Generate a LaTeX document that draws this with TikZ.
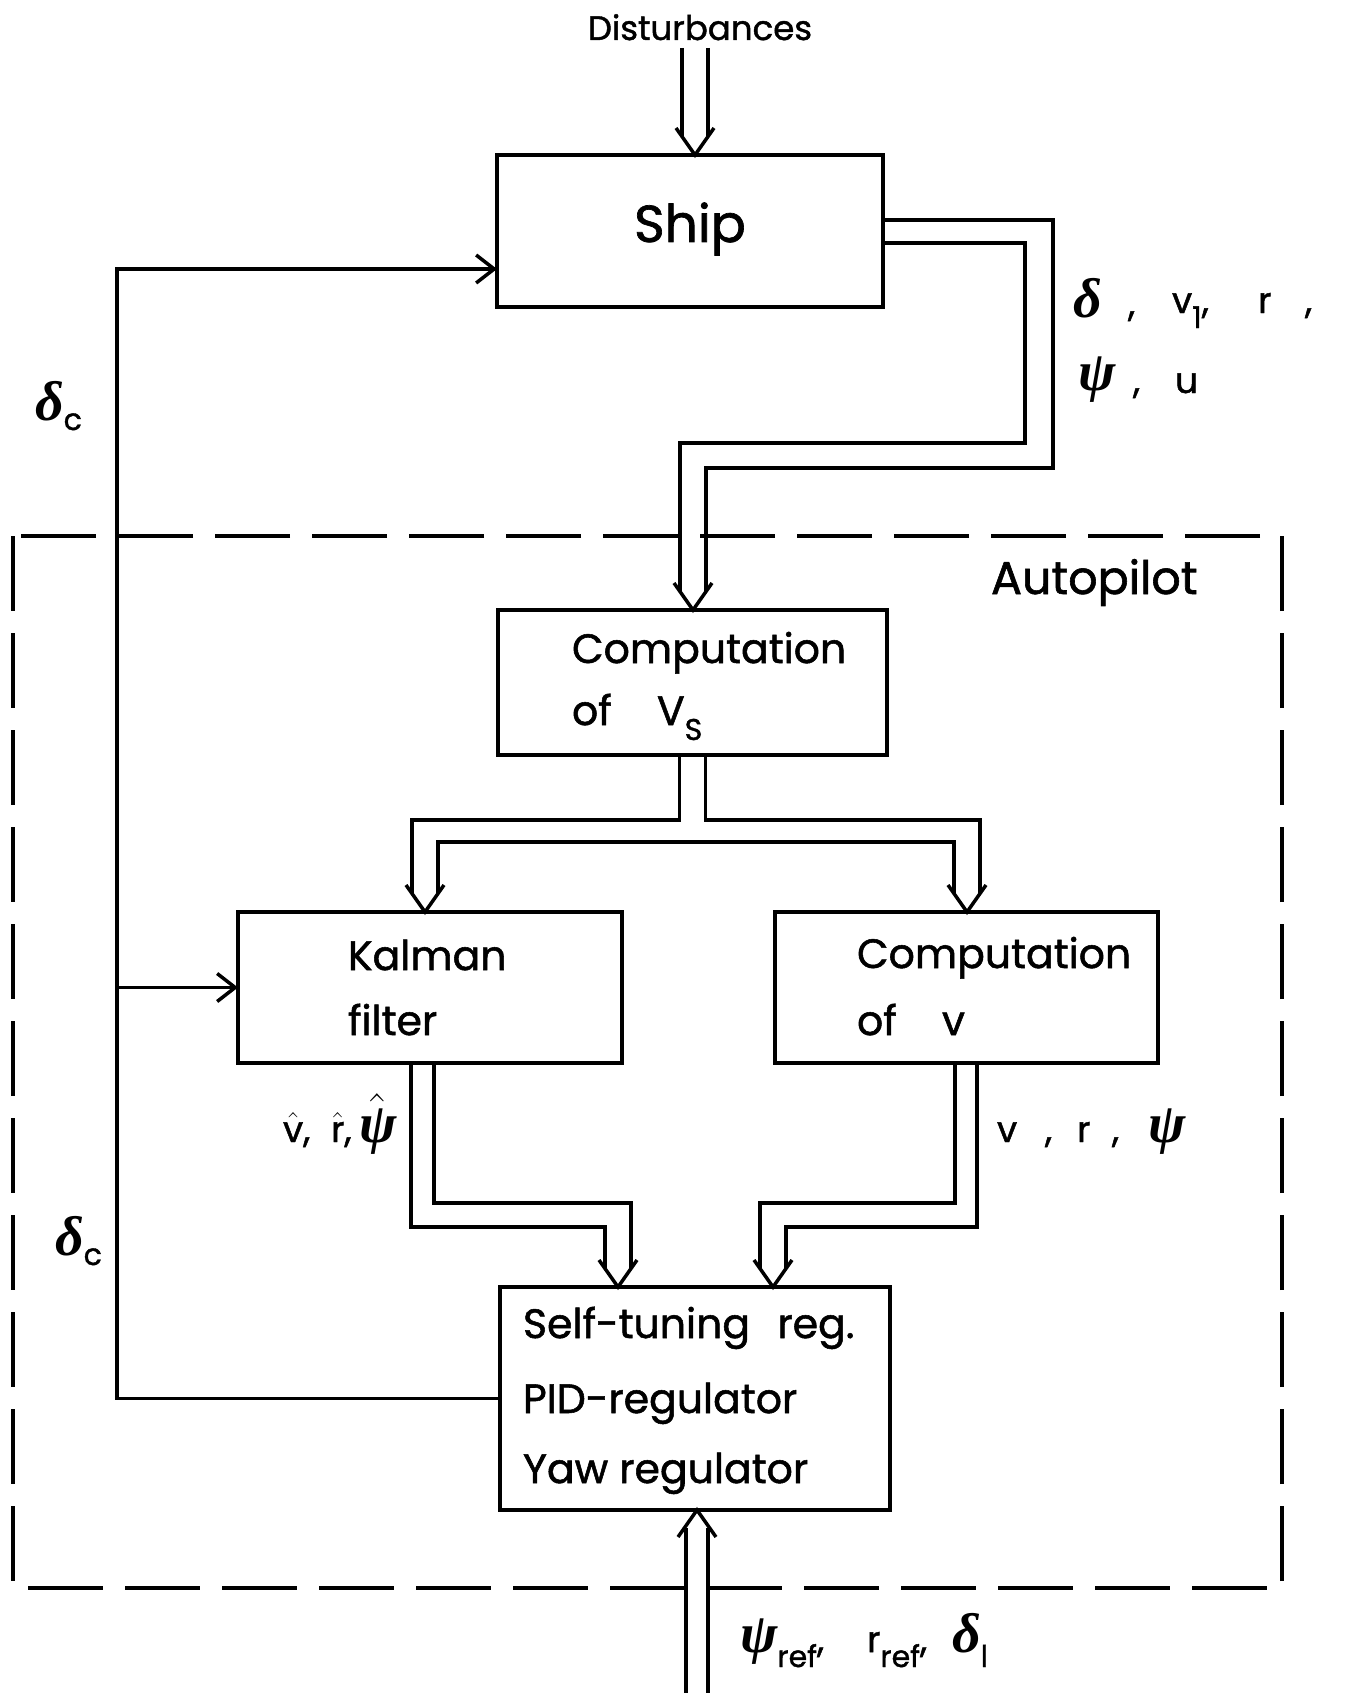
\documentclass[tikz,border=0pt]{standalone}
\usepackage{fix-cm}
\usepackage{amsmath}
\usepackage[no-math]{fontspec}
\setmainfont{Poppins}[FakeBold=1.3]
\newfontfamily\grk{Liberation Serif}
\usetikzlibrary{calc,arrows.meta}
\newcommand\fsBox{\fontsize{41pt}{46pt}\selectfont}
\newcommand\fsShip{\fontsize{52pt}{56pt}\selectfont}
\newcommand\fsDist{\fontsize{34pt}{38pt}\selectfont}
\newcommand\fsAuto{\fontsize{46pt}{50pt}\selectfont}
\newcommand\fsLab{\fontsize{36pt}{40pt}\selectfont}
\newcommand\fsSub{\fontsize{30pt}{32pt}\selectfont}
\newcommand\fsG{\fontsize{56pt}{60pt}\selectfont}
\newcommand\gd{{\grk\bfseries\itshape δ}}
\newcommand\gp{{\grk\bfseries\itshape ψ}}
\newcommand\sbx[2]{\raisebox{-#1pt}{\fsSub #2}}
\newcommand\DHdown[1]{\draw[ln] ($(#1)+(-19,-27)$) -- (#1) -- ($(#1)+(19,-27)$);}
\newcommand\DHup[1]{\draw[ln] ($(#1)+(-19,27)$) -- (#1) -- ($(#1)+(19,27)$);}
\begin{document}
\begin{tikzpicture}[x=1pt,y=-1pt,
  ln/.style={line width=3.5pt},
  box/.style={draw,line width=3.5pt,inner sep=0pt,outer sep=0pt},
  txt/.style={inner sep=0pt,outer sep=0pt,anchor=base west},
  barbtip/.style={-{Straight Barb[length=18pt,width=28pt,line width=3.5pt]}}]
\useasboundingbox[fill=white] (0,0) rectangle (1351,1693);

% boxes
\node[box,minimum width=386pt,minimum height=152pt] (ship) at (690,231) {};
\node[box,minimum width=389pt,minimum height=145pt] (vs) at (692.5,682.5) {};
\node[box,minimum width=384pt,minimum height=151pt] (kal) at (430,987.5) {};
\node[box,minimum width=383pt,minimum height=151pt] (cv) at (966.5,987.5) {};
\node[box,minimum width=390pt,minimum height=223pt] (str) at (695,1398.5) {};

% autopilot frame
\draw[ln,dash pattern=on 75pt off 22pt] (13,536) rectangle (1282,1588);

% texts
\node[txt,font=\fsDist,anchor=base] (dist) at (700,40) {Disturbances};
\node[txt,font=\fsShip,anchor=base] (shipT) at (690,242) {Ship};
\node[txt,font=\fsAuto] (autoT) at (991,594) {Autopilot};
\node[txt,font=\fsBox] (vsT1) at (572,663) {Computation};
\node[txt,font=\fsBox] (vsT2) at (572,725) {\makebox[85pt][l]{of}V\sbx{15}{S}};
\node[txt,font=\fsBox] (kalT1) at (348,970) {Kalman};
\node[txt,font=\fsBox] (kalT2) at (348,1035) {filter};
\node[txt,font=\fsBox] (cvT1) at (857,968) {Computation};
\node[txt,font=\fsBox] (cvT2) at (857,1035) {\makebox[85pt][l]{of}v};
\node[txt,font=\fsBox] (strT1) at (523,1338) {Self-tuning\hspace{0.4em} reg.};
\node[txt,font=\fsBox] (strT2) at (523,1413) {PID-regulator};
\node[txt,font=\fsBox] (strT3) at (523,1483) {Yaw regulator};

% signal labels
\node[txt] (dc1) at (35,420) {\fsG\gd\sbx{10}{c}};
\node[txt] (dc2) at (55,1255) {\fsG\gd\sbx{10}{c}};
\node[txt,font=\fsG] (odT) at (1073,318) {\gd};
\node[txt,font=\fsLab] (oc1) at (1128,316) {,};
\node[txt,font=\fsLab] (ov1) at (1172,313) {v\sbx{15}{1},};
\node[txt,font=\fsLab] (orT) at (1258,313) {r};
\node[txt,font=\fsLab] (oc2) at (1305,313) {,};
\node[txt,font=\fsG] (opT) at (1078,390) {\gp};
\node[txt,font=\fsLab] (oc3) at (1133,393) {,};
\node[txt,font=\fsLab] (ouT) at (1175,393) {u};
\node[txt] (kalL) at (283,1142) {\fsLab\makebox[48pt][l]{$\hat{\text{v}}$,}\makebox[28pt][l]{$\hat{\text{r}}$,}{\fsG$\hat{\text{\gp}}$}};
\node[txt] (cvL) at (997,1142) {\fsLab\makebox[48pt][l]{v}\makebox[32pt][l]{,}\makebox[35pt][l]{r}\makebox[36pt][l]{,}{\fsG\gp}};
\node[txt] (refL) at (740,1652) {\fsLab\makebox[127pt][l]{{\fsG\gp}\sbx{15}{ref},}\makebox[85pt][l]{r\sbx{15}{ref},}{\fsG\gd}\sbx{15}{l}};

% disturbances -> ship
\coordinate (t0) at ($(ship.north)+(5,0)$);
\draw[ln] ($(t0)+(-13,-107)$) -- ($(t0)+(-13,-18)$);
\draw[ln] ($(t0)+(13,-107)$) -- ($(t0)+(13,-18)$);
\DHdown{t0}

% ship -> computation of Vs
\coordinate (vt) at ($(vs.north)+(0.5,0)$);
\coordinate (so1) at ($(ship.east)+(0,-11)$);
\coordinate (so2) at ($(ship.east)+(0,12)$);
\draw[ln] (so1) -- ++(170,0) |- ($(vt)+(13,-142)$) -- ($(vt)+(13,-18)$);
\draw[ln] (so2) -- ++(142,0) |- ($(vt)+(-13,-167)$) -- ($(vt)+(-13,-18)$);
\DHdown{vt}

% Vs -> Kalman, Vs -> computation of v
\coordinate (kt) at ($(kal.north)+(-5,0)$);
\coordinate (ct) at ($(cv.north)+(0.5,0)$);
\draw[ln] ($(vs.south)+(-13,0)$) |- ($(kt)+(-13,-92)$) -- ($(kt)+(-13,-18)$);
\draw[ln] ($(vs.south)+(13,0)$) |- ($(ct)+(13,-92)$) -- ($(ct)+(13,-18)$);
\draw[ln] ($(kt)+(13,-18)$) |- ($(ct)+(-13,-70)$) -- ($(ct)+(-13,-18)$);
\DHdown{kt}
\DHdown{ct}

% Kalman -> regulator, computation of v -> regulator
\coordinate (lt) at ($(str.north)+(-77,0)$);
\coordinate (rt) at ($(str.north)+(78,0)$);
\draw[ln] ($(kal.south)+(-19,0)$) |- ($(lt)+(-13,-60)$) -- ($(lt)+(-13,-18)$);
\draw[ln] ($(kal.south)+(4,0)$) |- ($(lt)+(13,-84)$) -- ($(lt)+(13,-18)$);
\draw[ln] ($(cv.south)+(-11.5,0)$) |- ($(rt)+(-13,-84)$) -- ($(rt)+(-13,-18)$);
\draw[ln] ($(cv.south)+(10.5,0)$) |- ($(rt)+(13,-60)$) -- ($(rt)+(13,-18)$);
\DHdown{lt}
\DHdown{rt}

% reference input
\coordinate (bt) at ($(str.south)+(2,0)$);
\coordinate (inL) at ($(bt)+(-11,183)$);
\coordinate (inR) at ($(bt)+(11,183)$);
\draw[ln] (inL) -- ($(bt)+(-11,18)$);
\draw[ln] (inR) -- ($(bt)+(11,18)$);
\DHup{bt}

% feedback delta_c
\coordinate (fb) at ($(str.west)+(-383,0)$);
\draw[ln,barbtip] (str.west) -- (fb) |- ($(ship.west)+(0,38)$);
\draw[ln,barbtip] (fb |- kal.west) -- (kal.west);
\end{tikzpicture}
\end{document}
